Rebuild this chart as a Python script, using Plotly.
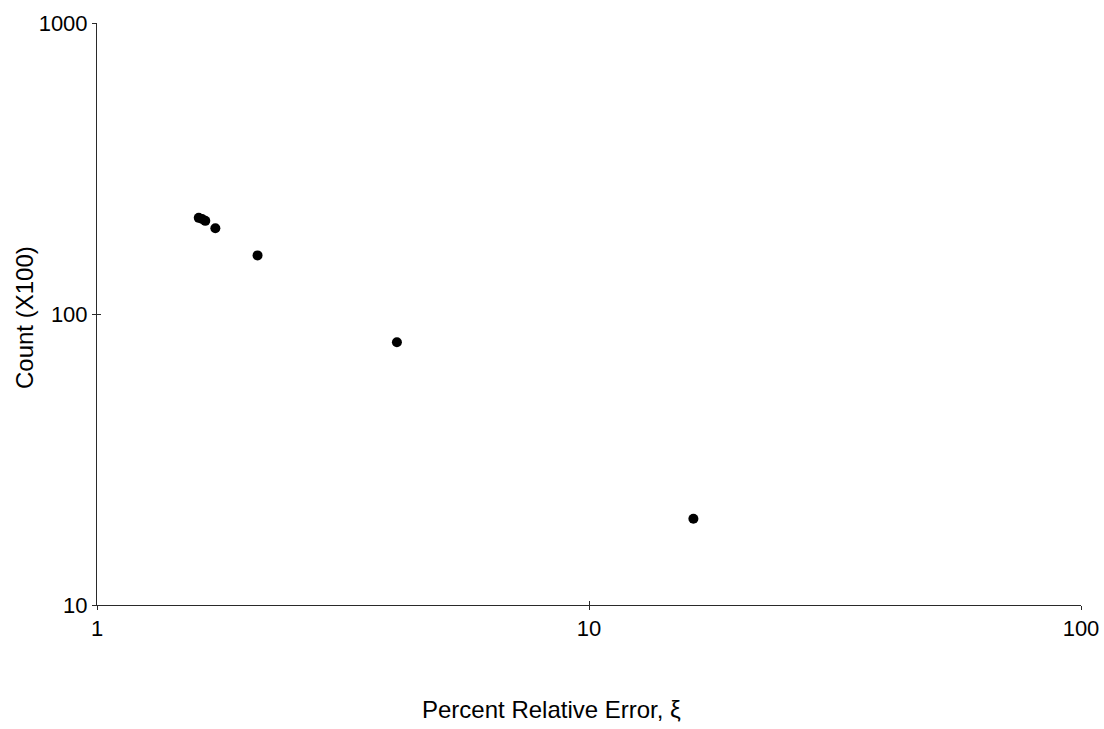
import plotly.graph_objects as go

# Percent relative error vs. count (x100), log-log
rel_error = [1.61, 1.635, 1.66, 1.74, 2.12, 4.07, 16.3]
count_x100 = [214, 212, 209, 197, 159, 80, 19.8]

x_ticks = [1, 10, 100]
y_ticks = [10, 100, 1000]

FONT = "Liberation Sans, Arial, sans-serif"
AXIS_COLOR = "#2a2a2a"

fig = go.Figure()
fig.add_trace(go.Scatter(
    x=rel_error, y=count_x100, mode="markers",
    marker=dict(color="black", size=10, line=dict(width=0)),
    showlegend=False, hoverinfo="x+y",
))
# empty trace carrying the inward half of the crossing ticks
fig.add_trace(go.Scatter(x=[None], y=[None], xaxis="x2", yaxis="y2",
                         showlegend=False, hoverinfo="skip"))

axis_common = dict(type="log", showgrid=False, zeroline=False, automargin=False,
                   linecolor=AXIS_COLOR, linewidth=1,
                   tickcolor=AXIS_COLOR, tickwidth=1,
                   tickfont=dict(family=FONT, size=22, color="black"))

fig.update_layout(
    width=1104, height=729,
    margin=dict(l=97, r=23, t=23, b=124, autoexpand=False),
    paper_bgcolor="white", plot_bgcolor="white",
    xaxis=dict(**axis_common, range=[0, 2], tickvals=x_ticks,
               ticktext=[str(v) for v in x_ticks],
               showline=True, ticks="outside", ticklen=4),
    yaxis=dict(**axis_common, range=[1, 3], tickvals=y_ticks,
               ticktext=[str(v) for v in y_ticks],
               showline=True, ticks="outside", ticklen=4),
    xaxis2=dict(type="log", range=[0, 2], overlaying="x", anchor="y",
                side="bottom", tickvals=x_ticks, ticks="inside", ticklen=4,
                tickcolor=AXIS_COLOR, showticklabels=False, showgrid=False,
                zeroline=False, showline=False, automargin=False),
    yaxis2=dict(type="log", range=[1, 3], overlaying="y", anchor="x",
                side="left", tickvals=y_ticks, ticks="inside", ticklen=4,
                tickcolor=AXIS_COLOR, showticklabels=False, showgrid=False,
                zeroline=False, showline=False, automargin=False),
    annotations=[
        dict(text="Percent Relative Error, \u03be", xref="paper", yref="paper",
             x=0.4614, y=-0.1804, xanchor="center", yanchor="middle",
             showarrow=False, font=dict(family=FONT, size=24, color="black")),
        dict(text="Count (X100)", xref="paper", yref="paper",
             x=-0.0742, y=0.4948, xanchor="center", yanchor="middle",
             textangle=-90, showarrow=False,
             font=dict(family=FONT, size=24, color="black")),
    ],
)

fig.write_html("out.html")
